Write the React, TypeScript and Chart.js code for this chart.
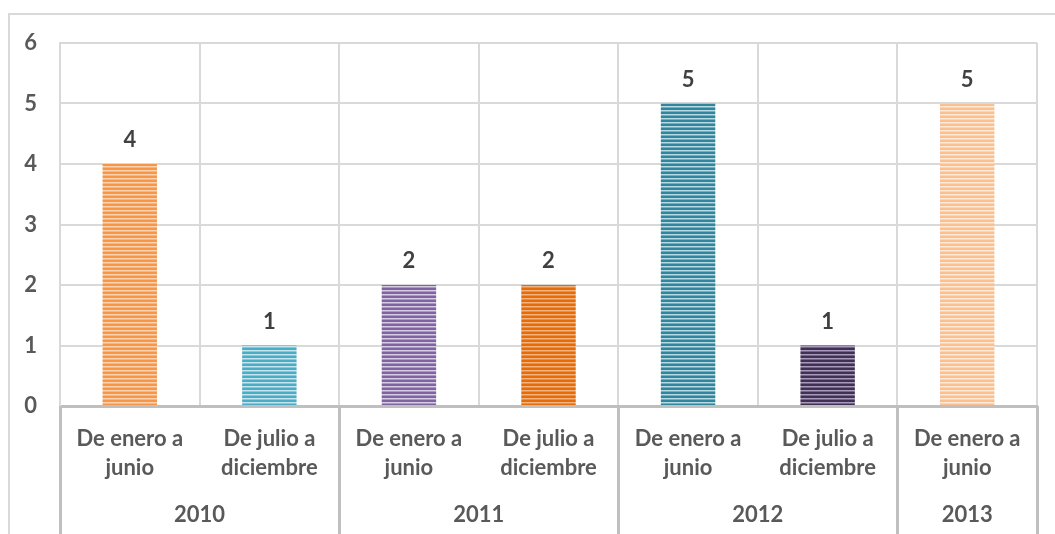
import React, { useEffect, useRef } from 'react';
import { Chart, registerables } from 'chart.js';

Chart.register(...registerables);

const categories: string[][] = [
  ['De enero a', 'junio'],
  ['De julio a', 'diciembre'],
  ['De enero a', 'junio'],
  ['De julio a', 'diciembre'],
  ['De enero a', 'junio'],
  ['De julio a', 'diciembre'],
  ['De enero a', 'junio'],
];
const years = ['2010', '2011', '2012', '2013'];
const yearSpans = [2, 2, 2, 1];
const values = [4, 1, 2, 2, 5, 1, 5];
const barColors = ['#F79646', '#4BACC6', '#8064A2', '#E46C0A', '#31859C', '#403152', '#FAC090'];
const stripeColors = ['#FCD3B0', '#C4E5EE', '#D6CCE3', '#F4B27C', '#B5DAE4', '#A99BBD', '#FEE9D6'];
const yMin = 0;
const yMax = 6;

const FONT = 'Lato, "Open Sans", sans-serif';

function makePattern(base: string, light: string): CanvasPattern | string {
  const c = document.createElement('canvas');
  c.width = 4;
  c.height = 4;
  const g = c.getContext('2d');
  if (!g) return base;
  g.fillStyle = base;
  g.fillRect(0, 0, 4, 4);
  g.fillStyle = light;
  g.fillRect(0, 2, 4, 1);
  g.globalAlpha = 0.5;
  g.fillRect(0, 3, 4, 1);
  const p = g.createPattern(c, 'repeat');
  return p || base;
}

const overlayPlugin = {
  id: 'overlay',
  afterDraw(chart: any) {
    const ctx = chart.ctx as CanvasRenderingContext2D;
    const area = chart.chartArea;
    const xs = chart.scales.x;
    const step = xs.getPixelForValue(1) - xs.getPixelForValue(0);
    const left = xs.getPixelForValue(0) - step / 2;
    ctx.save();
    // outer frame
    ctx.strokeStyle = '#D9D9D9';
    ctx.lineWidth = 2;
    ctx.beginPath();
    ctx.moveTo(9, 540);
    ctx.lineTo(9, 14);
    ctx.lineTo(1060, 14);
    ctx.stroke();

    // group separators below axis
    ctx.strokeStyle = '#BFBFBF';
    ctx.lineWidth = 3;
    let idx = 0;
    const bounds: number[] = [0];
    yearSpans.forEach((s) => {
      idx += s;
      bounds.push(idx);
    });
    bounds.forEach((b) => {
      const x = Math.round(left + b * step) + 0.5;
      ctx.beginPath();
      ctx.moveTo(x, area.bottom);
      ctx.lineTo(x, 534);
      ctx.stroke();
    });

    // year labels
    ctx.fillStyle = '#595959';
    ctx.font = `bold 22px ${FONT}`;
    ctx.textAlign = 'center';
    ctx.textBaseline = 'middle';
    years.forEach((y, i) => {
      const cx = left + ((bounds[i] + bounds[i + 1]) / 2) * step;
      ctx.fillText(y, cx, 515);
    });

    // data labels
    ctx.fillStyle = '#404040';
    const meta = chart.getDatasetMeta(0);
    meta.data.forEach((el: any, i: number) => {
      ctx.fillText(String(values[i]), el.x, el.y - 24);
    });
    ctx.restore();
  },
};

export default function App() {
  const ref = useRef<HTMLCanvasElement | null>(null);
  useEffect(() => {
    if (!ref.current) return;
    const patterns = barColors.map((c, i) => makePattern(c, stripeColors[i]));
    const chart = new Chart(ref.current, {
      type: 'bar',
      data: {
        labels: categories,
        datasets: [
          {
            data: values,
            backgroundColor: patterns as any,
            borderWidth: 0,
            barPercentage: 0.39,
            categoryPercentage: 1,
          },
        ],
      },
      options: {
        animation: false,
        responsive: false,
        maintainAspectRatio: false,
        layout: { padding: { left: 0, top: 43, right: 18, bottom: 0 } },
        plugins: { legend: { display: false }, tooltip: { enabled: false } },
        scales: {
          x: {
            grid: { color: '#D9D9D9', lineWidth: 2, drawTicks: false, offset: true },
            border: { display: true, color: '#BFBFBF', width: 3 },
            ticks: {
              color: '#595959',
              font: { family: FONT, weight: 'bold', size: 22, lineHeight: 1.32 },
              padding: 18,
              maxRotation: 0,
              autoSkip: false,
            },
            afterFit(scale: any) {
              scale.height = 128;
            },
          },
          y: {
            min: yMin,
            max: yMax,
            grid: { color: '#D9D9D9', lineWidth: 2, drawTicks: false },
            border: { display: true, color: '#D9D9D9', width: 2 },
            ticks: {
              stepSize: 1,
              color: '#595959',
              font: { family: FONT, weight: 'bold', size: 22 },
              padding: 23,
            },
            afterFit(scale: any) {
              scale.width = 60;
            },
          },
        },
      },
      plugins: [overlayPlugin],
    });
    return () => chart.destroy();
  }, []);
  return (
    <div style={{ position: 'fixed', left: 0, top: 0, width: 1055, height: 534, background: '#fff' }}>
      <canvas ref={ref} width={1055} height={534} style={{ display: 'block' }} />
    </div>
  );
}
